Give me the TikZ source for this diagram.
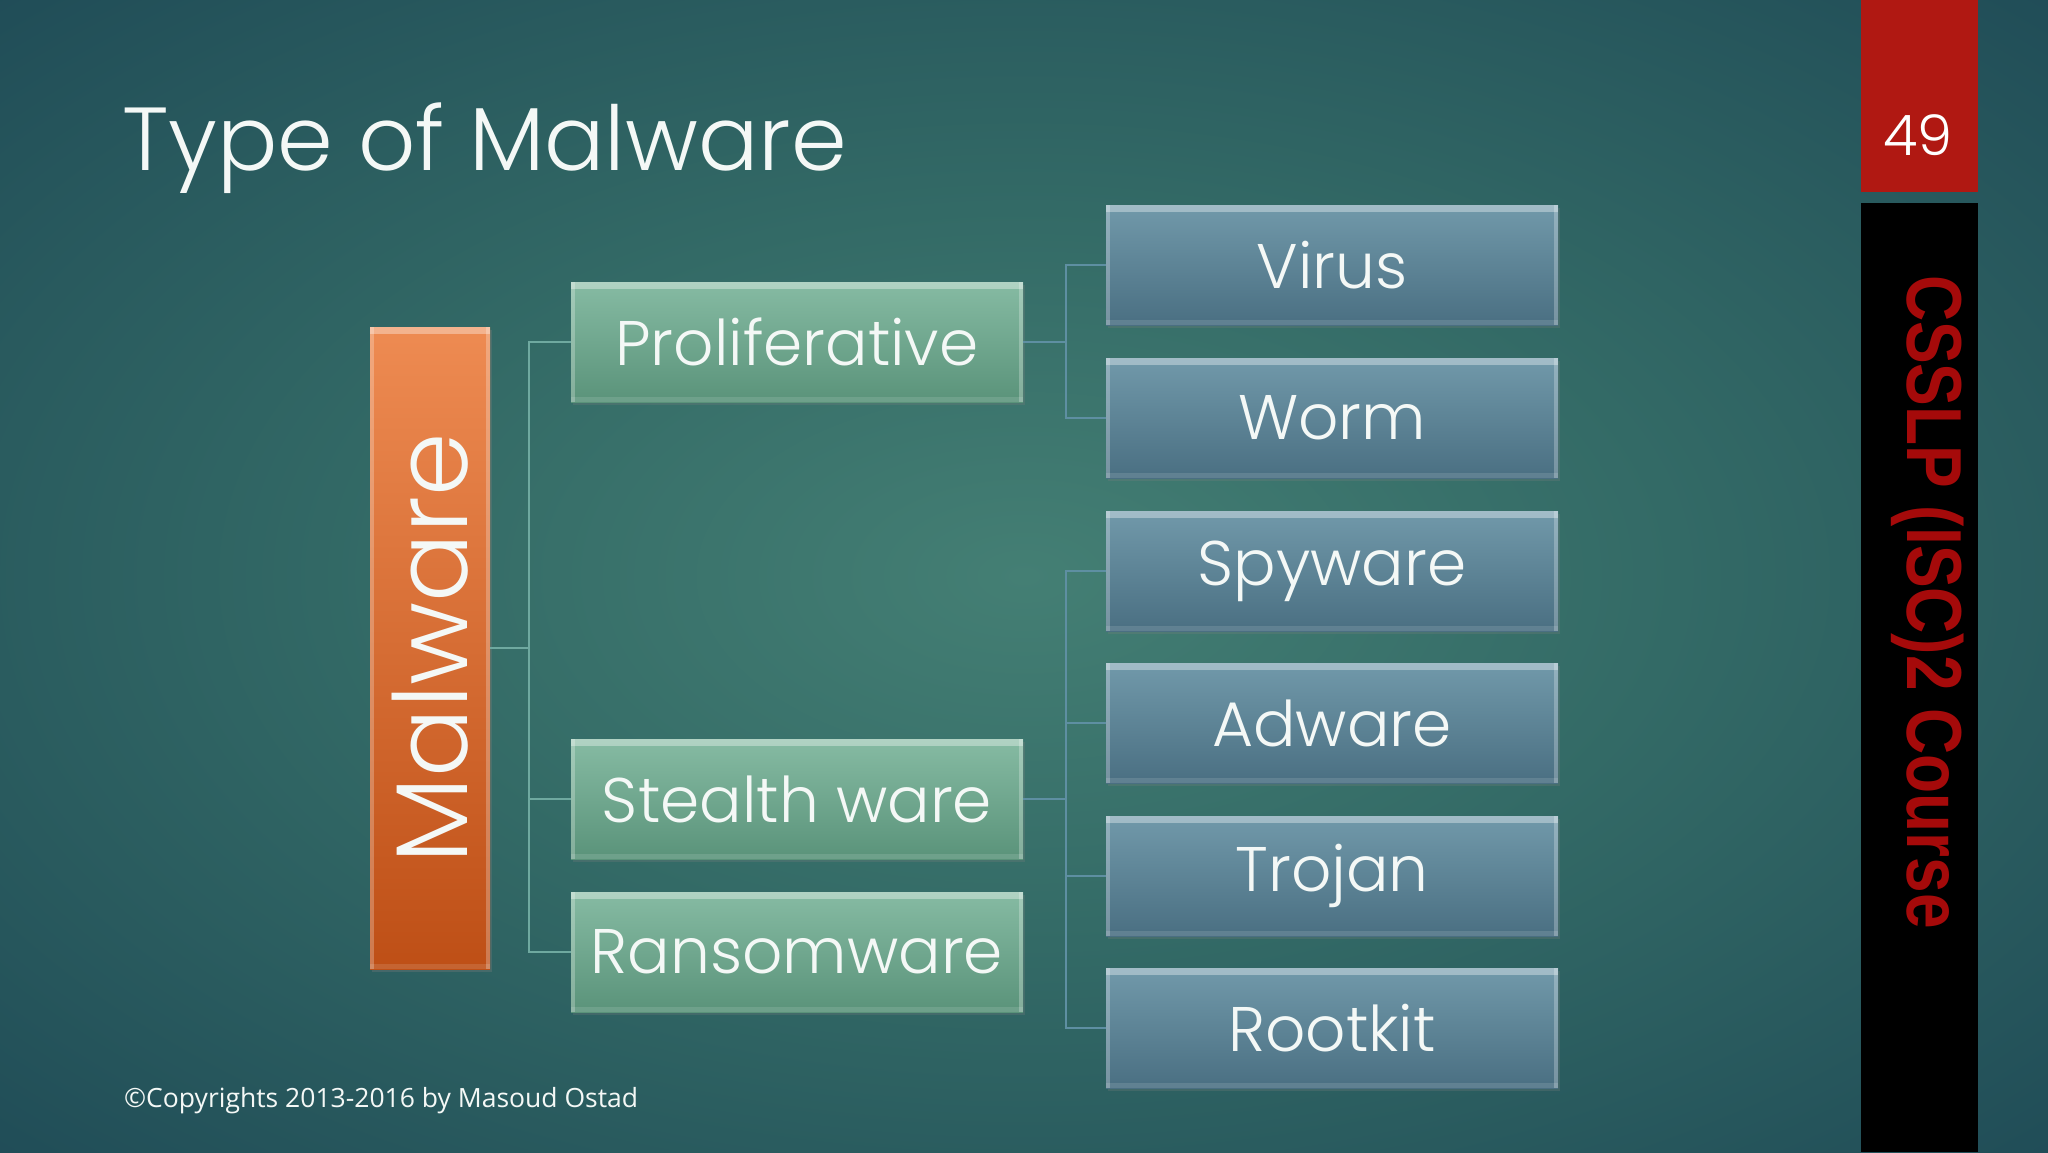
\documentclass[tikz,border=0pt]{standalone}
\usepackage{fontspec}
\setmainfont{Poppins}
\newfontfamily\gothic{Poppins Light}
\newfontfamily\segoe{Open Sans}
\newfontfamily\arialb{Liberation Sans}
\usetikzlibrary{shadows}
\definecolor{bgC}{HTML}{447F74}
\definecolor{bgM}{HTML}{336A66}
\definecolor{bgO}{HTML}{1C4654}
\definecolor{grT}{HTML}{86BBA3}
\definecolor{grB}{HTML}{5A937A}
\definecolor{blT}{HTML}{7199AA}
\definecolor{blB}{HTML}{4A6F82}
\definecolor{orT}{HTML}{EE8B52}
\definecolor{orB}{HTML}{BE4F16}
\definecolor{lnG}{HTML}{6FA9A0}
\definecolor{lnB}{HTML}{5E8FA2}
\definecolor{slideRed}{HTML}{B01812}
\definecolor{courseRed}{HTML}{A50A0A}
\definecolor{txtW}{HTML}{F4F8F6}
\pgfdeclareradialshading{bgrad}{\pgfpoint{0bp}{0bp}}{color(0bp)=(bgC); color(16bp)=(bgM); color(40bp)=(bgO); color(50bp)=(bgO)}
\tikzset{
  bevel/.style={path picture={
      \fill[white,opacity=0.35] (path picture bounding box.north west) rectangle ([yshift=-7pt]path picture bounding box.north east);
      \fill[white,opacity=0.25] (path picture bounding box.north west) rectangle ([xshift=4pt]path picture bounding box.south west);
      \fill[white,opacity=0.25] ([xshift=-4pt]path picture bounding box.north east) rectangle (path picture bounding box.south east);
      \fill[white,opacity=0.12] ([yshift=5pt]path picture bounding box.south west) rectangle (path picture bounding box.south east);
  }},
  greenbox/.style={rectangle, minimum width=452pt, minimum height=120pt, inner sep=0pt,
    top color=grT, bottom color=grB, bevel, drop shadow={opacity=0.25,shadow xshift=2pt,shadow yshift=-3pt},
    text=txtW, font=\gothic\fontsize{63}{63}\selectfont},
  bluebox/.style={rectangle, minimum width=452pt, minimum height=120pt, inner sep=0pt,
    top color=blT, bottom color=blB, bevel, drop shadow={opacity=0.25,shadow xshift=2pt,shadow yshift=-3pt},
    text=txtW, font=\gothic\fontsize{63}{63}\selectfont},
  orangebox/.style={rectangle, minimum width=120pt, minimum height=642pt, inner sep=0pt,
    top color=orT, bottom color=orB, bevel, drop shadow={opacity=0.3,shadow xshift=2pt,shadow yshift=-3pt}},
  conn/.style={draw=lnG, line width=2.4pt},
  connb/.style={draw=lnB, line width=2.4pt}
}
\begin{document}
\begin{tikzpicture}[x=1pt,y=-1pt]
\useasboundingbox (0,0) rectangle (2048,1152);
\shade[shading=bgrad] (0,0) rectangle (2048,1152);
% title
\node[anchor=base west, inner sep=0pt, text=txtW, font=\gothic\fontsize{89.5}{89.5}\selectfont] (title) at (122,170) {Type of Malware};
% right bar
\fill[slideRed] (1861,0) rectangle (1978,192);
\fill[black] (1861,203) rectangle (1978,1152);
\node[text=white, font=\gothic\fontsize{56}{56}\selectfont] (pagenum) at (1918,135) {49};
\node[rotate=-90, text=courseRed, font=\arialb\bfseries\fontsize{78}{78}\selectfont, xscale=0.82] (course) at (1928,602) {CSSLP (ISC)2 Course};
% copyright
\node[anchor=base west, inner sep=0pt, text=txtW, font=\segoe\fontsize{26.5}{26.5}\selectfont] (copy) at (124,1107) {\textcopyright Copyrights 2013-2016 by Masoud Ostad};
% boxes
\node[orangebox] (mal) at (430,648) {};
\node[rotate=90, text=txtW, font=\gothic\fontsize{102}{102}\selectfont] (maltext) at (mal.center) {Malware};
\node[greenbox] (prol) at (797,342) {Proliferative};
\node[greenbox] (stealth) at (797,799) {Stealth ware};
\node[greenbox] (ransom) at (797,952) {Ransomware};
\node[bluebox] (virus) at (1332,265) {Virus};
\node[bluebox] (worm) at (1332,418) {Worm};
\node[bluebox] (spy) at (1332,571) {Spyware};
\node[bluebox] (ad) at (1332,723) {Adware};
\node[bluebox] (trojan) at (1332,876) {Trojan};
\node[bluebox] (root) at (1332,1028) {Rootkit};
% connectors
\coordinate (t1) at (529,648);
\coordinate (t2) at (1066,342);
\coordinate (t3) at (1066,799);
\draw[conn] (mal.east) -- (t1);
\draw[conn] (prol.west) -| (t1);
\draw[conn] (stealth.west) -| (t1);
\draw[conn] (ransom.west) -| (t1);
\draw[connb] (prol.east) -- (t2);
\draw[connb] (virus.west) -| (t2);
\draw[connb] (worm.west) -| (t2);
\draw[connb] (stealth.east) -- (t3);
\draw[connb] (spy.west) -| (t3);
\draw[connb] (ad.west) -| (t3);
\draw[connb] (trojan.west) -| (t3);
\draw[connb] (root.west) -| (t3);
\end{tikzpicture}
\end{document}
